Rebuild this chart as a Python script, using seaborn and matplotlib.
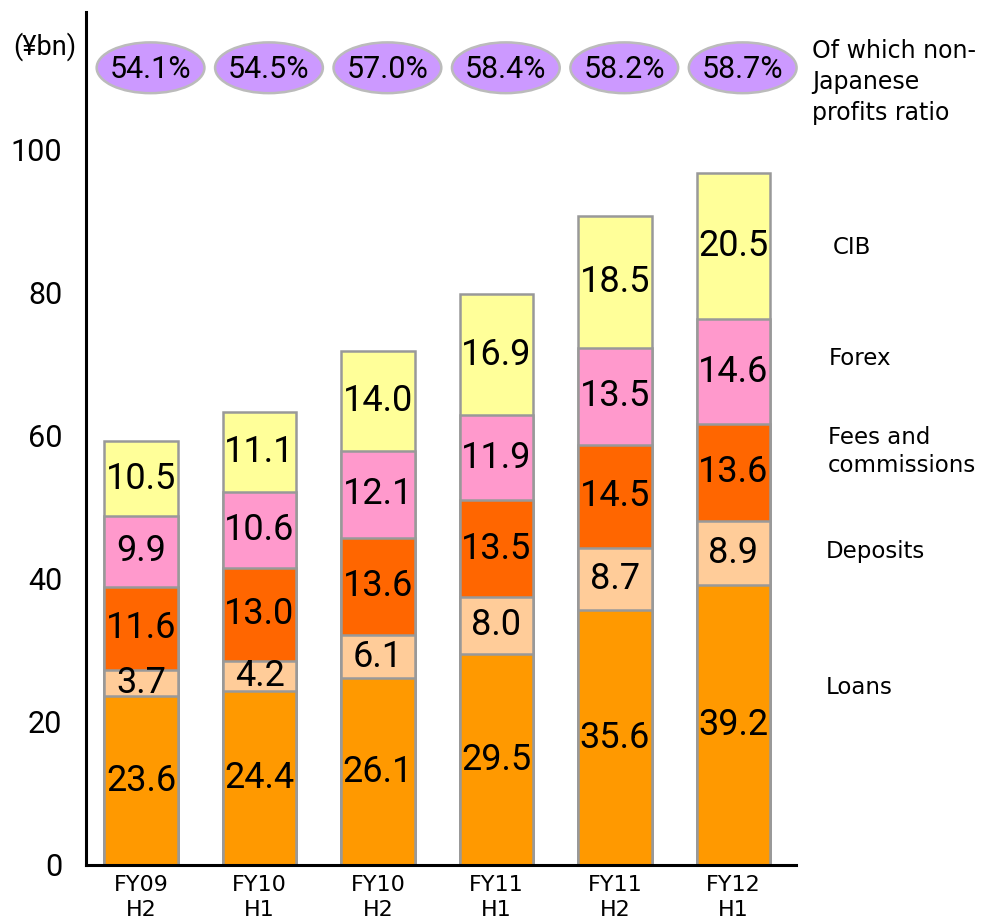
import pandas as pd
import numpy as np
import matplotlib
matplotlib.use("Agg")
import matplotlib.pyplot as plt
from matplotlib.patches import Ellipse
import seaborn as sns

# Data
periods = ["FY09\nH2", "FY10\nH1", "FY10\nH2", "FY11\nH1", "FY11\nH2", "FY12\nH1"]
loans = [23.6, 24.4, 26.1, 29.5, 35.6, 39.2]
deposits = [3.7, 4.2, 6.1, 8.0, 8.7, 8.9]
fees = [11.6, 13.0, 13.6, 13.5, 14.5, 13.6]
forex = [9.9, 10.6, 12.1, 11.9, 13.5, 14.6]
cib = [10.5, 11.1, 14.0, 16.9, 18.5, 20.5]
non_jp_ratio = ["54.1%", "54.5%", "57.0%", "58.4%", "58.2%", "58.7%"]

segments = ["Loans", "Deposits", "Fees and\ncommissions", "Forex", "CIB"]
colors = ["#FF9900", "#FFCC99", "#FF6600", "#FF99CC", "#FFFF99"]

df = pd.DataFrame({"period": periods, "Loans": loans, "Deposits": deposits,
                   "Fees and\ncommissions": fees, "Forex": forex, "CIB": cib})
cum = df[segments].cumsum(axis=1)

sns.set_style("white")
plt.rcParams["text.color"] = "black"
plt.rcParams["xtick.color"] = "black"
plt.rcParams["ytick.color"] = "black"
fig = plt.figure(figsize=(9.81, 9.23), dpi=100)
ax = fig.add_axes([86 / 981, 58 / 923, 710 / 981, 853 / 923])

# stacked bars: draw cumulative totals from top segment down
for seg, col in reversed(list(zip(segments, colors))):
    sns.barplot(x=df["period"], y=cum[seg], color=col, saturation=1,
                width=0.62, edgecolor="#999999", linewidth=1.8, ax=ax,
                zorder=2)

# segment value labels
for i in range(len(periods)):
    prev = 0
    for seg in segments:
        v = df.loc[i, seg]
        ax.text(i, prev + v / 2, f"{v:.1f}", ha="center", va="center",
                fontsize=26, family="Roboto", zorder=3)
        prev += v

# non-Japanese ratio ellipses
for i, r in enumerate(non_jp_ratio):
    e = Ellipse((i + 0.08, 111.5), 0.91, 7.1, facecolor="#CC99FF",
                edgecolor="#BBBBBB", linewidth=1.8, clip_on=False, zorder=3)
    ax.add_patch(e)
    ax.text(i + 0.08, 111.3, r, ha="center", va="center", fontsize=22,
            family="Roboto", zorder=4)

# side labels
side_y = {"CIB": 86.3, "Forex": 70.9, "Fees and\ncommissions": 57.8,
          "Deposits": 43.8, "Loans": 24.8}
side_x = {"CIB": 5.84, "Forex": 5.81, "Fees and\ncommissions": 5.80,
          "Deposits": 5.785, "Loans": 5.785}
for seg in segments:
    ax.text(side_x[seg], side_y[seg], seg, ha="left", va="center",
            fontsize=16.5, family="DejaVu Sans", clip_on=False,
            linespacing=1.3)
ax.text(5.667, 109.5, "Of which non-\nJapanese\nprofits ratio", ha="left",
        va="center", fontsize=17, family="DejaVu Sans", clip_on=False,
        linespacing=1.35)
ax.text(-0.81, 114.4, "(¥bn)", ha="center", va="center", fontsize=19.5,
        family="Roboto", clip_on=False)

ax.set_xlim(-0.465, 5.53)
ax.set_ylim(0, 119.3)
ax.set_yticks([0, 20, 40, 60, 80, 100])
ax.tick_params(axis="y", length=0, pad=17, labelsize=22)
ax.tick_params(axis="x", length=0, pad=7, labelsize=16)
for lab in ax.get_yticklabels():
    lab.set_family("Roboto")
for lab in ax.get_xticklabels():
    lab.set_family("DejaVu Sans")
    lab.set_linespacing(1.3)
ax.set_xlabel("")
ax.set_ylabel("")
sns.despine(ax=ax, top=True, right=True)
for s in ["left", "bottom"]:
    ax.spines[s].set_color("black")
    ax.spines[s].set_linewidth(2.2)
    ax.spines[s].set_zorder(5)

fig.savefig("out.png", dpi=100)
